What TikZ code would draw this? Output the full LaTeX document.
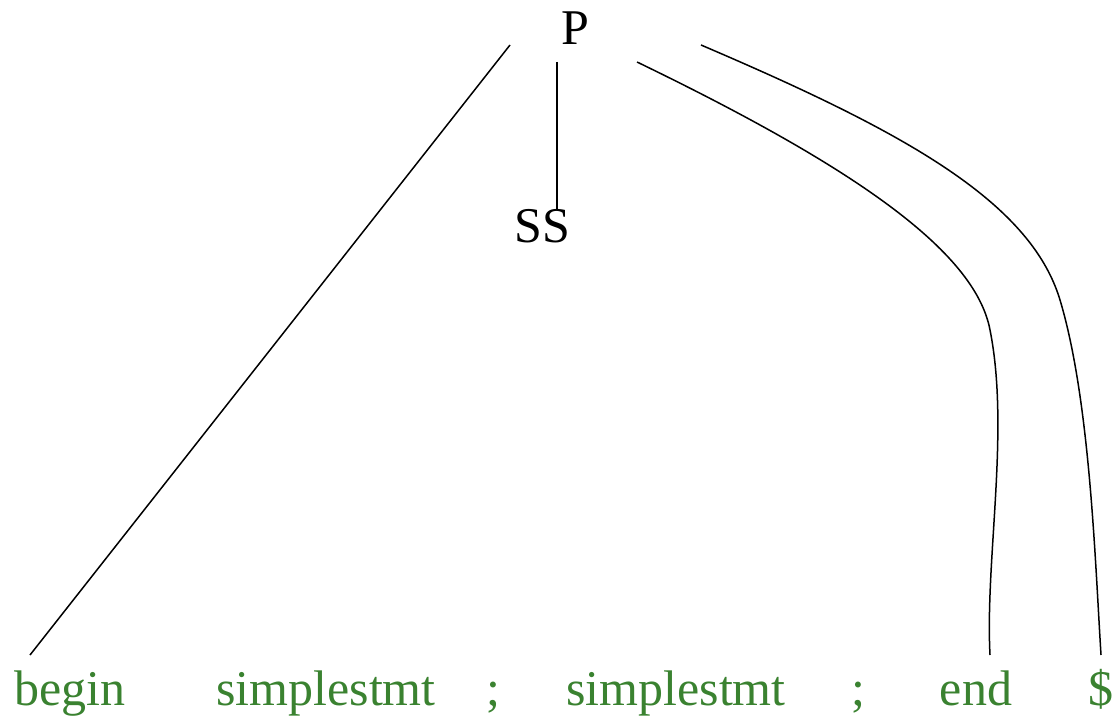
\documentclass[tikz,border=0pt]{standalone}
\usepackage{fontspec}
\setmainfont{Liberation Serif}
\usepackage{xcolor}
\usepackage{tikz}
\definecolor{tokgreen}{RGB}{58,130,48}

\begin{document}
\begin{tikzpicture}[
  x=0.5pt, y=-0.5pt,
  nt/.style  = {inner sep=0pt, anchor=base, font=\fontsize{25}{30}\selectfont},
  tok/.style = {nt, text=tokgreen},
  edge/.style = {line width=0.75pt}
]
  \useasboundingbox (0,0) rectangle (1117,717);

  \node[nt] (P)  at (575,45)  {P};
  \node[nt] (SS) at (542,242) {SS};

  \node[tok] (begin) at (70,705)  {begin};
  \node[tok] (stmt1) at (326,705) {simplestmt};
  \node[tok] (semi1) at (493,705) {;};
  \node[tok] (stmt2) at (676,705) {simplestmt};
  \node[tok] (semi2) at (858,705) {;};
  \node[tok] (end)   at (976,705) {end};
  \node[tok] (dollar) at (1101,705) {\$};

  \draw[edge] ([shift={(-65,0)}]P.base) -- ([shift={(-40,-50)}]begin.base);
  \draw[edge] ([shift={(-18,17)}]P.base) -- ([shift={(15,-32)}]SS.base);
  \draw[edge] ([shift={(62,17)}]P.base)
    .. controls (850,165) and (975,250) .. (990,330)
    .. controls (1010,430) and (985,560) .. ([shift={(14,-50)}]end.base);
  \draw[edge] ([shift={(126,0)}]P.base)
    .. controls (900,130) and (1030,200) .. (1060,300)
    .. controls (1090,400) and (1095,560) .. ([shift={(0,-50)}]dollar.base);
\end{tikzpicture}
\end{document}
